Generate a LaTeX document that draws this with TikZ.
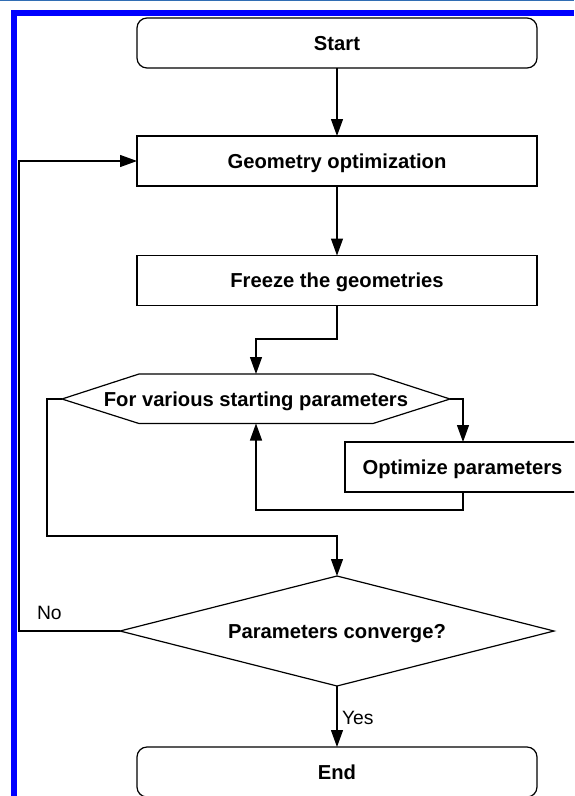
\documentclass[tikz,border=0pt]{standalone}
\usepackage{fontspec}
\setmainfont{Liberation Sans}
\usetikzlibrary{arrows.meta,calc}
\definecolor{frameblue}{RGB}{0,0,255}
\definecolor{edgeblue}{RGB}{50,110,180}
\begin{document}
\begin{tikzpicture}[x=1pt,y=-1pt,
  line width=1.2pt,
  every node/.style={inner sep=0pt,outer sep=0pt},
  boldtext/.style={font=\fontsize{20.2}{24}\selectfont\bfseries,text height=14.5pt,text depth=0pt},
  box/.style={draw,rectangle,minimum width=400pt,minimum height=50pt,boldtext},
  termbox/.style={box,rounded corners=10pt},
  lbl/.style={boldtext},
  plain/.style={font=\fontsize{19.3}{23}\selectfont},
  flow/.style={-{Triangle[length=17pt,width=12pt]}},
]
\useasboundingbox (0,0) rectangle (574,796);
\fill[white] (0,0) rectangle (574,796);

% window frame
\fill[edgeblue] (0,0) rectangle (574,1.2);
\fill[frameblue] (11,10) rectangle (574,15.5);
\fill[frameblue] (11,10) rectangle (16.5,796);

\begin{scope}
\clip (16.5,15.5) rectangle (574,796);

% process steps
\node[termbox] (start) at (337,43) {Start};
\node[box] (geo) at (337,161) {Geometry optimization};
\node[box] (freeze) at (337,280.5) {Freeze the geometries};
\node[box,minimum width=235pt] (opt) at (462.5,467) {Optimize parameters};
\node[termbox] (end) at (337,772) {End};

% loop over starting parameters (hexagon)
\coordinate (hl) at (62,399);
\coordinate (hr) at (450,399);
\coordinate (ht) at (256,374);
\coordinate (hb) at (256,423.5);
\draw (hl) -- (139,374) -- (373,374) -- (hr) -- (373,423.5) -- (139,423.5) -- cycle;
\node[lbl] (loop) at (256,399) {For various starting parameters};

% convergence test (diamond)
\coordinate (dt) at (337,576);
\coordinate (dl) at (120,631);
\coordinate (dr) at (554,631);
\coordinate (db) at (337,686);
\draw (dt) -- (dr) -- (db) -- (dl) -- cycle;
\node[lbl] (conv) at (337,631) {Parameters converge?};

% connectors
\draw[flow] (start.south) -- (geo.north);
\draw[flow] (geo.south) -- (freeze.north);
\draw[flow] (freeze.south) |- (256,339) -- (ht);
\draw[flow] (hr) -- (463,399) -- (opt.north -| 463,0);
\draw[flow] (opt.south -| 463,0) |- (256,510) -- (hb);
\draw[flow] (hl) -- (47,399) |- (337,536) -- (dt);
\draw[flow] (dl) -- (19,631) |- (geo.west);
\draw[flow] (db) -- (end.north);

% branch labels
\node[plain,anchor=west] (no) at (37,612.5) {No};
\node[plain,anchor=west] (yes) at (342,717.5) {Yes};
\end{scope}
\end{tikzpicture}
\end{document}
